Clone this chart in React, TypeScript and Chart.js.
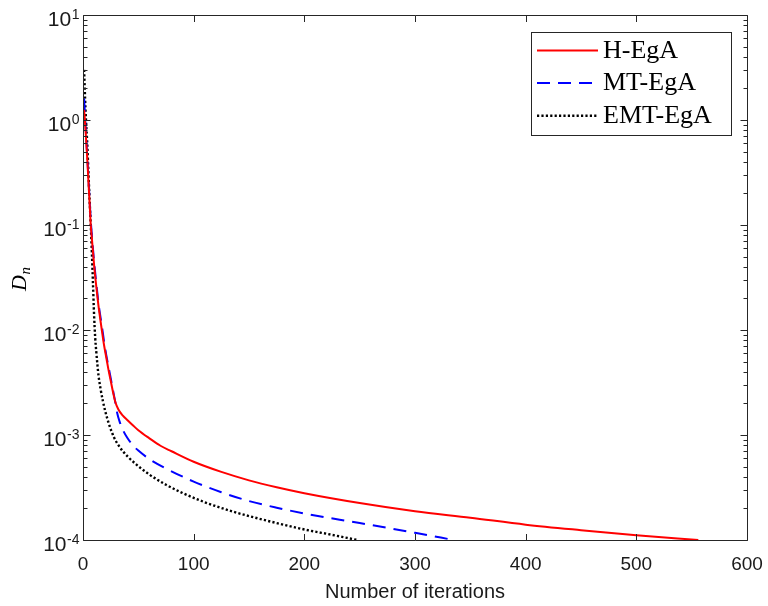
import { useEffect, useRef } from "react";
import { Chart, registerables } from "chart.js";

Chart.register(...registerables);

// ---- data ----
const hIter = [1, 2, 3, 4, 5, 6, 7, 8, 10, 12, 14, 17, 19, 21, 23, 25, 27, 29, 32, 36, 40, 45, 50, 60, 70, 80, 100, 125, 150, 175, 200, 250, 300, 350, 400, 450, 500, 556];
const hVal = [1.25, 0.9, 0.6, 0.4, 0.25, 0.16, 0.1, 0.075, 0.042, 0.026, 0.017, 0.01, 0.0072, 0.0055, 0.0042, 0.0033, 0.0026, 0.0021, 0.00175, 0.00153, 0.00139, 0.00124, 0.00111, 0.00093, 0.00079, 0.0007, 0.000556, 0.000445, 0.00037, 0.000318, 0.000279, 0.000225, 0.000188, 0.000163, 0.00014, 0.000124, 0.000111, 0.0001];

const mtIter = [1, 2, 3, 4, 5, 6, 7, 8, 10, 12, 14, 17, 19, 21, 23, 25, 27, 29, 31, 33, 36, 40, 45, 50, 60, 75, 100, 125, 150, 175, 200, 250, 300, 335];
const mtVal = [1.6, 1.0, 0.65, 0.42, 0.27, 0.17, 0.11, 0.08, 0.045, 0.028, 0.018, 0.011, 0.0078, 0.0058, 0.0045, 0.0035, 0.0027, 0.0021, 0.0016, 0.00135, 0.00112, 0.00094, 0.0008, 0.00071, 0.00059, 0.00048, 0.00036, 0.000285, 0.000235, 0.000203, 0.000179, 0.000145, 0.000117, 0.0001];

const emtIter = [1, 2, 2.7, 4, 5, 6, 7, 8, 9, 10, 11, 12, 13, 14, 16, 18, 20, 24, 28, 32, 36, 45, 60, 75, 90, 110, 135, 150, 175, 200, 225, 248];
const emtVal = [3.0, 1.5, 1.0, 0.55, 0.3, 0.17, 0.1, 0.055, 0.028, 0.014, 0.0085, 0.0062, 0.0047, 0.0037, 0.0027, 0.0021, 0.0017, 0.00122, 0.00095, 0.0008, 0.0007, 0.00056, 0.00042, 0.000336, 0.00028, 0.000229, 0.000187, 0.000169, 0.000145, 0.000126, 0.000112, 0.0001];

const seriesLabels = ["H-EgA", "MT-EgA", "EMT-EgA"];
const xTicks = [0, 100, 200, 300, 400, 500, 600];
const yExponents = [-4, -3, -2, -1, 0, 1];
const xTitle = "Number of iterations";

const AXIS = "#262626";

const axesPlugin = {
  id: "matlabAxes",
  afterDraw(chart: any) {
    const ctx = chart.ctx as CanvasRenderingContext2D;
    const { left, right, top, bottom } = chart.chartArea;
    const xs = chart.scales.x;
    const ys = chart.scales.y;
    ctx.save();
    ctx.strokeStyle = AXIS;
    ctx.lineWidth = 1;
    ctx.setLineDash([]);
    const L = Math.round(left) + 0.5, R = Math.round(right) + 0.5;
    const T = Math.round(top) + 0.5, B = Math.round(bottom) + 0.5;
    ctx.beginPath();
    ctx.rect(L, T, R - L, B - T);
    ctx.stroke();
    // x ticks
    ctx.beginPath();
    for (const v of xTicks) {
      const px = Math.round(xs.getPixelForValue(v)) + 0.5;
      ctx.moveTo(px, B); ctx.lineTo(px, B - 6.5);
      ctx.moveTo(px, T); ctx.lineTo(px, T + 6.5);
    }
    // y ticks
    for (const e of yExponents) {
      const py = Math.round(ys.getPixelForValue(Math.pow(10, e))) + 0.5;
      ctx.moveTo(L, py); ctx.lineTo(L + 7, py);
      ctx.moveTo(R, py); ctx.lineTo(R - 7, py);
      if (e < yExponents[yExponents.length - 1]) {
        for (let k = 2; k <= 9; k++) {
          const pm = Math.round(ys.getPixelForValue(k * Math.pow(10, e))) + 0.5;
          ctx.moveTo(L, pm); ctx.lineTo(L + 4, pm);
          ctx.moveTo(R, pm); ctx.lineTo(R - 4, pm);
        }
      }
    }
    ctx.stroke();

    // x tick labels
    ctx.fillStyle = "#1a1a1a";
    ctx.font = '19px "Liberation Sans", Arial, sans-serif';
    ctx.textAlign = "center";
    ctx.textBaseline = "alphabetic";
    for (const v of xTicks) {
      ctx.fillText(String(v), xs.getPixelForValue(v), 570);
    }
    // x title
    ctx.font = '20px "Liberation Sans", Arial, sans-serif';
    ctx.fillText(xTitle, (left + right) / 2, 598);

    // y tick labels 10^e
    ctx.textAlign = "left";
    for (const e of yExponents) {
      const py = ys.getPixelForValue(Math.pow(10, e));
      const base = "10";
      const exp = String(e);
      ctx.font = '21px "Liberation Sans", Arial, sans-serif';
      const wb = ctx.measureText(base).width;
      ctx.font = '14px "Liberation Sans", Arial, sans-serif';
      const we = ctx.measureText(exp).width;
      const xEnd = 79;
      const x0 = xEnd - we - wb;
      ctx.font = '21px "Liberation Sans", Arial, sans-serif';
      ctx.fillText(base, x0, py + 11);
      ctx.font = '14px "Liberation Sans", Arial, sans-serif';
      ctx.fillText(exp, x0 + wb + 0.5, py + 3.5);
    }

    // y title D_n
    ctx.save();
    ctx.translate(26, 291);
    ctx.rotate(-Math.PI / 2);
    ctx.font = 'italic 22px "Liberation Serif", "Times New Roman", serif';
    ctx.fillStyle = "#000";
    ctx.fillText("D", 0, 0);
    const wD = ctx.measureText("D").width;
    ctx.font = 'italic 15px "Liberation Serif", "Times New Roman", serif';
    ctx.fillText("n", wD + 0.5, 4);
    ctx.restore();

    // legend
    const bx = 531.5, by = 32.5, bw = 200, bh = 103;
    ctx.fillStyle = "#fff";
    ctx.fillRect(bx, by, bw, bh);
    ctx.strokeStyle = AXIS;
    ctx.lineWidth = 1;
    ctx.strokeRect(bx, by, bw, bh);
    const baselines = [57.5, 90, 122.7];
    chart.data.datasets.forEach((ds: any, i: number) => {
      const yb = baselines[i];
      const yl = yb - 7;
      ctx.save();
      ctx.strokeStyle = ds.borderColor;
      ctx.lineWidth = ds.borderWidth;
      ctx.setLineDash(ds.borderDash || []);
      ctx.lineCap = "butt";
      ctx.beginPath();
      ctx.moveTo(537, yl);
      ctx.lineTo(598, yl);
      ctx.stroke();
      ctx.restore();
      ctx.fillStyle = "#000";
      ctx.font = '26px "Liberation Serif", "Times New Roman", serif';
      ctx.textAlign = "left";
      ctx.fillText(ds.label, 603, yb);
    });
    ctx.restore();
  },
};

export default function App() {
  const ref = useRef<HTMLCanvasElement | null>(null);
  useEffect(() => {
    if (!ref.current) return;
    const mk = (xs: number[], ys: number[]) => xs.map((x, i) => ({ x, y: ys[i] }));
    const chart = new Chart(ref.current, {
      type: "line",
      data: {
        datasets: [
          {
            label: seriesLabels[0],
            data: mk(hIter, hVal),
            borderColor: "#ff0000",
            borderWidth: 2,
            pointRadius: 0,
            fill: false,
            cubicInterpolationMode: "monotone",
          },
          {
            label: seriesLabels[1],
            data: mk(mtIter, mtVal),
            borderColor: "#0000ff",
            borderWidth: 2,
            borderDash: [13, 8],
            pointRadius: 0,
            fill: false,
            cubicInterpolationMode: "monotone",
          },
          {
            label: seriesLabels[2],
            data: mk(emtIter, emtVal),
            borderColor: "#000000",
            borderWidth: 2.4,
            borderDash: [2.2, 2.2],
            pointRadius: 0,
            fill: false,
            cubicInterpolationMode: "monotone",
          },
        ],
      },
      options: {
        responsive: false,
        animation: false,
        events: [],
        layout: { padding: { left: 0, right: 21, top: 15, bottom: 0 } },
        plugins: { legend: { display: false }, tooltip: { enabled: false } },
        scales: {
          x: {
            type: "linear",
            min: 0,
            max: 600,
            grid: { display: false },
            border: { display: false },
            ticks: { display: false },
            afterFit: (s: any) => { s.height = 66; },
          },
          y: {
            type: "logarithmic",
            min: 1e-4,
            max: 10,
            grid: { display: false },
            border: { display: false },
            ticks: { display: false },
            afterFit: (s: any) => { s.width = 83; },
          },
        },
      } as any,
      plugins: [axesPlugin],
    });
    return () => chart.destroy();
  }, []);
  return (
    <div style={{ position: "fixed", left: 0, top: 0, width: 768, height: 606, background: "#fff" }}>
      <canvas ref={ref} width={768} height={606} style={{ width: 768, height: 606, display: "block" }} />
    </div>
  );
}
